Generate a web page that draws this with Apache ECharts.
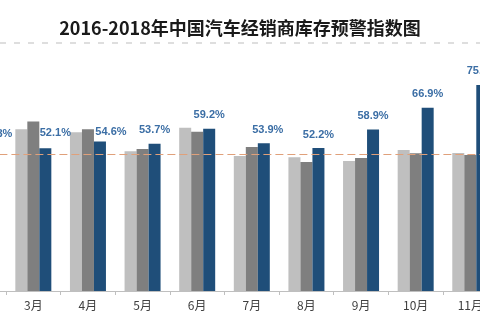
<!DOCTYPE html>
<html>
<head>
<meta charset="utf-8">
<script src="https://cdn.jsdelivr.net/npm/echarts@6/dist/echarts.min.js"></script>
<style>html,body{margin:0;padding:0;background:#fff;}#c{width:480px;height:334px;}</style>
</head>
<body>
<div id="c"></div>
<script>
const titleText = '2016-2018年中国汽车经销商库存预警指数图';
const categories = ['2月','3月','4月','5月','6月','7月','8月','9月','10月','11月'];
const s2016 = [null, 59.0, 57.9, 51.0, 59.6, 49.3, 48.8, 47.4, 51.5, 50.4];
const s2017 = [null, 61.9, 59.0, 51.8, 58.1, 52.6, 47.1, 48.5, 50.3, 49.6];
const s2018 = [51.8, 52.1, 54.6, 53.7, 59.2, 53.9, 52.2, 58.9, 66.9, 75.2];
const warningLine = 50;

// per-label nudges (label placement, not data)
const labelNudge = {0: [6, -2], 1: [10, -2], 2: [11, 4], 5: [4, 0]};

const chart = echarts.init(document.getElementById('c'), null, {renderer: 'canvas'});
const d2018 = s2018.map((v, i) => labelNudge[i] ? {value: v, label: {offset: labelNudge[i]}} : v);

chart.setOption({
  animation: false,
  backgroundColor: '#ffffff',
  title: {
    text: titleText, left: 'center', top: 14,
    textStyle: {fontFamily: 'Noto Sans CJK SC', fontWeight: 'bold', fontSize: 18, color: '#1a1a1a'}
  },
  graphic: [{
    type: 'line', shape: {x1: 0, y1: 43, x2: 480, y2: 43},
    style: {stroke: '#bdbdbd', lineWidth: 1, lineDash: [6, 8]}, silent: true
  }],
  grid: {left: -48.6, right: -17.6, top: 17, bottom: 43, containLabel: false, outerBoundsMode: 'none'},
  xAxis: {
    type: 'category', data: categories,
    axisLine: {lineStyle: {color: '#bfbfbf'}},
    axisTick: {show: true, length: 4, lineStyle: {color: '#bfbfbf'}},
    axisLabel: {color: '#404040', fontSize: 12, margin: 8, fontFamily: 'Noto Sans CJK SC', interval: 0}
  },
  yAxis: {type: 'value', min: 0, max: 100, show: false, splitLine: {show: false}},
  series: [
    {name: '2016', type: 'bar', data: s2016, barWidth: 12, barGap: '0%', itemStyle: {color: '#bfbfbf'},
     markLine: {silent: true, symbol: 'none', label: {show: false},
       lineStyle: {color: '#e0a07a', type: [8, 4], width: 1}, data: [{yAxis: warningLine}]}},
    {name: '2017', type: 'bar', data: s2017, barWidth: 12, barGap: '0%', itemStyle: {color: '#7f7f7f'}},
    {name: '2018', type: 'bar', data: d2018, barWidth: 12, barGap: '0%', itemStyle: {color: '#1f4e79'},
     label: {show: true, position: 'top', distance: 8, formatter: p => p.value.toFixed(1) + '%',
       color: '#3b6ea5', fontWeight: 'bold', fontSize: 11, fontFamily: 'Liberation Sans'}}
  ]
});
</script>
</body>
</html>
